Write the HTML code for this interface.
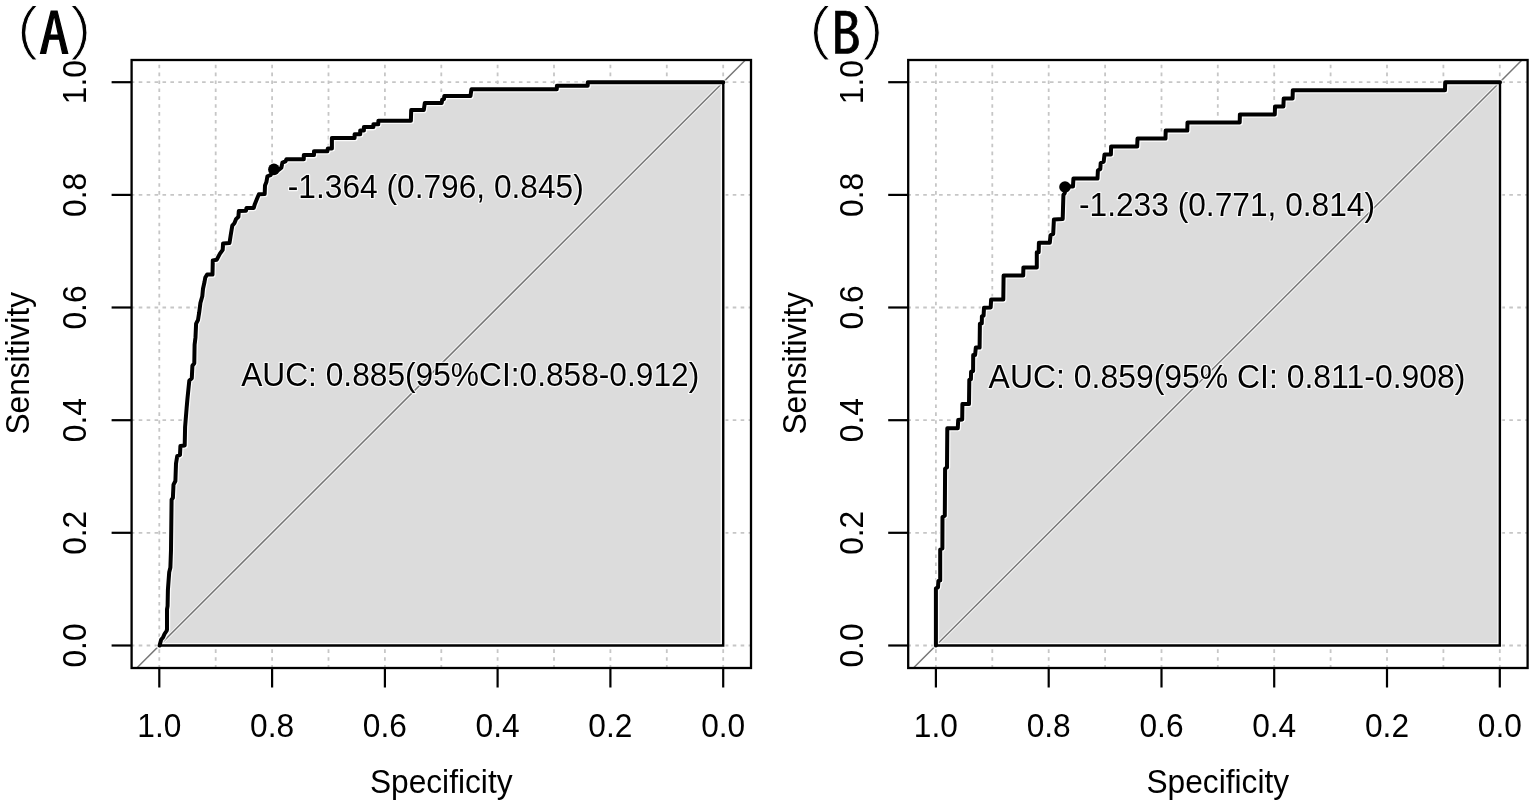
<!DOCTYPE html>
<html><head><meta charset="utf-8"><title>ROC curves</title>
<style>
html,body{margin:0;padding:0;background:#fff;width:1535px;height:806px;overflow:hidden}
svg{display:block}
text{font-family:'Liberation Sans', Arial, Helvetica, sans-serif;font-size:32.9px;fill:#000}
.grid line{stroke:#c6c6c6;stroke-width:1.8;stroke-dasharray:3.6 4.32}
.grid line.v{stroke-dasharray:3.6 4.3}
.auc{fill:#dcdcdc;stroke:none}
.auch{fill:none;stroke:#fff;stroke-opacity:0.8;stroke-width:5.0;stroke-linejoin:miter}
.aucb{fill:none;stroke:#000;stroke-width:2.4;stroke-linejoin:miter}
.diagh{stroke:#fff;stroke-opacity:0.7;stroke-width:3.4}
.roch{fill:none;stroke:#fff;stroke-opacity:0.8;stroke-width:6.6;stroke-linejoin:round}
.ann{stroke:#fff;stroke-opacity:0.8;stroke-width:2.4;paint-order:stroke fill;stroke-linejoin:round}
.diag{stroke:#767676;stroke-width:1.5}
.roc{fill:none;stroke:#000;stroke-width:4;stroke-linejoin:round;stroke-linecap:round}
.frame{fill:none;stroke:#000;stroke-width:2.3}
.tick line{stroke:#000;stroke-width:2.2}
.lab{font-family:'IPAGothic','Liberation Sans',sans-serif;font-size:59.5px;letter-spacing:-2.5px}
.lab{stroke:#fff;stroke-width:0.9}
.lab .labl{stroke:#000;stroke-width:1.2}
.lab .labB{stroke-width:0.7}
</style></head>
<body>
<svg width="1535" height="806" viewBox="0 0 1535 806">
<rect width="1535" height="806" fill="#fff"/>
<g class="grid"><line class="v" x1="159.3" y1="668.7" x2="159.3" y2="60.0"/><line class="v" x1="215.7" y1="668.7" x2="215.7" y2="60.0"/><line class="v" x1="272.1" y1="668.7" x2="272.1" y2="60.0"/><line class="v" x1="328.5" y1="668.7" x2="328.5" y2="60.0"/><line class="v" x1="384.9" y1="668.7" x2="384.9" y2="60.0"/><line class="v" x1="441.3" y1="668.7" x2="441.3" y2="60.0"/><line class="v" x1="497.6" y1="668.7" x2="497.6" y2="60.0"/><line class="v" x1="554.0" y1="668.7" x2="554.0" y2="60.0"/><line class="v" x1="610.4" y1="668.7" x2="610.4" y2="60.0"/><line class="v" x1="666.8" y1="668.7" x2="666.8" y2="60.0"/><line class="v" x1="723.2" y1="668.7" x2="723.2" y2="60.0"/><line x1="130.8" y1="645.5" x2="751.0" y2="645.5"/><line x1="130.8" y1="532.8" x2="751.0" y2="532.8"/><line x1="130.8" y1="420.2" x2="751.0" y2="420.2"/><line x1="130.8" y1="307.5" x2="751.0" y2="307.5"/><line x1="130.8" y1="194.9" x2="751.0" y2="194.9"/><line x1="130.8" y1="82.2" x2="751.0" y2="82.2"/></g>
<polygon class="auc" points="159.6,645.5 161.2,639.5 163.0,637.5 164.5,634.0 166.5,631.0 167.0,629.5 167.0,609.4 167.6,606.0 167.9,590.0 169.2,572.3 170.4,567.4 171.0,550.0 171.6,499.6 172.9,497.8 173.5,484.7 175.4,481.0 176.0,463.6 177.2,456.2 180.0,455.0 180.4,446.0 184.7,445.5 185.1,426.9 186.6,408.3 187.4,399.3 189.3,380.6 191.8,378.2 192.4,365.8 194.3,363.3 194.6,344.7 195.5,337.2 196.1,323.6 198.0,320.0 199.2,312.4 200.4,303.0 202.3,296.2 203.0,288.7 204.5,282.0 205.3,277.5 207.1,274.6 212.5,274.6 212.8,260.4 216.8,259.7 219.8,253.9 222.7,249.8 223.1,243.4 229.5,243.0 230.7,235.3 232.3,225.6 234.4,223.2 236.0,219.2 238.4,216.8 238.8,211.1 246.0,210.7 246.5,207.9 253.7,207.9 254.9,203.9 256.9,199.0 258.9,194.3 264.7,194.0 265.0,185.5 266.4,182.1 267.4,176.3 270.5,175.2 273.9,169.4 278.6,169.8 281.4,167.7 282.4,162.6 285.5,161.3 286.5,159.2 303.8,159.2 303.8,155.1 314.0,155.1 314.0,151.3 327.3,151.3 327.8,148.5 331.9,148.5 331.9,138.0 354.6,138.0 354.6,134.2 360.2,134.2 360.2,130.5 363.9,130.5 363.9,127.1 373.4,127.1 373.4,124.3 378.2,124.3 378.4,120.7 410.9,120.7 411.2,110.0 423.8,110.0 424.8,103.0 441.7,103.0 442.2,99.6 444.0,99.0 444.3,96.0 470.5,96.0 471.4,89.2 556.8,89.2 556.9,85.8 587.7,85.8 587.8,82.2 723.3,82.2 723.2,645.5"/>
<line class="diagh" x1="136.8" y1="668.0" x2="745.4" y2="60.0"/>
<line class="diag" x1="136.8" y1="668.0" x2="745.4" y2="60.0"/>
<polygon class="auch" points="159.6,645.5 161.2,639.5 163.0,637.5 164.5,634.0 166.5,631.0 167.0,629.5 167.0,609.4 167.6,606.0 167.9,590.0 169.2,572.3 170.4,567.4 171.0,550.0 171.6,499.6 172.9,497.8 173.5,484.7 175.4,481.0 176.0,463.6 177.2,456.2 180.0,455.0 180.4,446.0 184.7,445.5 185.1,426.9 186.6,408.3 187.4,399.3 189.3,380.6 191.8,378.2 192.4,365.8 194.3,363.3 194.6,344.7 195.5,337.2 196.1,323.6 198.0,320.0 199.2,312.4 200.4,303.0 202.3,296.2 203.0,288.7 204.5,282.0 205.3,277.5 207.1,274.6 212.5,274.6 212.8,260.4 216.8,259.7 219.8,253.9 222.7,249.8 223.1,243.4 229.5,243.0 230.7,235.3 232.3,225.6 234.4,223.2 236.0,219.2 238.4,216.8 238.8,211.1 246.0,210.7 246.5,207.9 253.7,207.9 254.9,203.9 256.9,199.0 258.9,194.3 264.7,194.0 265.0,185.5 266.4,182.1 267.4,176.3 270.5,175.2 273.9,169.4 278.6,169.8 281.4,167.7 282.4,162.6 285.5,161.3 286.5,159.2 303.8,159.2 303.8,155.1 314.0,155.1 314.0,151.3 327.3,151.3 327.8,148.5 331.9,148.5 331.9,138.0 354.6,138.0 354.6,134.2 360.2,134.2 360.2,130.5 363.9,130.5 363.9,127.1 373.4,127.1 373.4,124.3 378.2,124.3 378.4,120.7 410.9,120.7 411.2,110.0 423.8,110.0 424.8,103.0 441.7,103.0 442.2,99.6 444.0,99.0 444.3,96.0 470.5,96.0 471.4,89.2 556.8,89.2 556.9,85.8 587.7,85.8 587.8,82.2 723.3,82.2 723.2,645.5"/>
<polyline class="roch" points="159.6,645.5 161.2,639.5 163.0,637.5 164.5,634.0 166.5,631.0 167.0,629.5 167.0,609.4 167.6,606.0 167.9,590.0 169.2,572.3 170.4,567.4 171.0,550.0 171.6,499.6 172.9,497.8 173.5,484.7 175.4,481.0 176.0,463.6 177.2,456.2 180.0,455.0 180.4,446.0 184.7,445.5 185.1,426.9 186.6,408.3 187.4,399.3 189.3,380.6 191.8,378.2 192.4,365.8 194.3,363.3 194.6,344.7 195.5,337.2 196.1,323.6 198.0,320.0 199.2,312.4 200.4,303.0 202.3,296.2 203.0,288.7 204.5,282.0 205.3,277.5 207.1,274.6 212.5,274.6 212.8,260.4 216.8,259.7 219.8,253.9 222.7,249.8 223.1,243.4 229.5,243.0 230.7,235.3 232.3,225.6 234.4,223.2 236.0,219.2 238.4,216.8 238.8,211.1 246.0,210.7 246.5,207.9 253.7,207.9 254.9,203.9 256.9,199.0 258.9,194.3 264.7,194.0 265.0,185.5 266.4,182.1 267.4,176.3 270.5,175.2 273.9,169.4 278.6,169.8 281.4,167.7 282.4,162.6 285.5,161.3 286.5,159.2 303.8,159.2 303.8,155.1 314.0,155.1 314.0,151.3 327.3,151.3 327.8,148.5 331.9,148.5 331.9,138.0 354.6,138.0 354.6,134.2 360.2,134.2 360.2,130.5 363.9,130.5 363.9,127.1 373.4,127.1 373.4,124.3 378.2,124.3 378.4,120.7 410.9,120.7 411.2,110.0 423.8,110.0 424.8,103.0 441.7,103.0 442.2,99.6 444.0,99.0 444.3,96.0 470.5,96.0 471.4,89.2 556.8,89.2 556.9,85.8 587.7,85.8 587.8,82.2 723.3,82.2"/>
<circle cx="273.9" cy="169.4" r="7.0" fill="#fff" fill-opacity="0.8"/>
<polygon class="aucb" points="159.6,645.5 161.2,639.5 163.0,637.5 164.5,634.0 166.5,631.0 167.0,629.5 167.0,609.4 167.6,606.0 167.9,590.0 169.2,572.3 170.4,567.4 171.0,550.0 171.6,499.6 172.9,497.8 173.5,484.7 175.4,481.0 176.0,463.6 177.2,456.2 180.0,455.0 180.4,446.0 184.7,445.5 185.1,426.9 186.6,408.3 187.4,399.3 189.3,380.6 191.8,378.2 192.4,365.8 194.3,363.3 194.6,344.7 195.5,337.2 196.1,323.6 198.0,320.0 199.2,312.4 200.4,303.0 202.3,296.2 203.0,288.7 204.5,282.0 205.3,277.5 207.1,274.6 212.5,274.6 212.8,260.4 216.8,259.7 219.8,253.9 222.7,249.8 223.1,243.4 229.5,243.0 230.7,235.3 232.3,225.6 234.4,223.2 236.0,219.2 238.4,216.8 238.8,211.1 246.0,210.7 246.5,207.9 253.7,207.9 254.9,203.9 256.9,199.0 258.9,194.3 264.7,194.0 265.0,185.5 266.4,182.1 267.4,176.3 270.5,175.2 273.9,169.4 278.6,169.8 281.4,167.7 282.4,162.6 285.5,161.3 286.5,159.2 303.8,159.2 303.8,155.1 314.0,155.1 314.0,151.3 327.3,151.3 327.8,148.5 331.9,148.5 331.9,138.0 354.6,138.0 354.6,134.2 360.2,134.2 360.2,130.5 363.9,130.5 363.9,127.1 373.4,127.1 373.4,124.3 378.2,124.3 378.4,120.7 410.9,120.7 411.2,110.0 423.8,110.0 424.8,103.0 441.7,103.0 442.2,99.6 444.0,99.0 444.3,96.0 470.5,96.0 471.4,89.2 556.8,89.2 556.9,85.8 587.7,85.8 587.8,82.2 723.3,82.2 723.2,645.5"/>
<polyline class="roc" points="159.6,645.5 161.2,639.5 163.0,637.5 164.5,634.0 166.5,631.0 167.0,629.5 167.0,609.4 167.6,606.0 167.9,590.0 169.2,572.3 170.4,567.4 171.0,550.0 171.6,499.6 172.9,497.8 173.5,484.7 175.4,481.0 176.0,463.6 177.2,456.2 180.0,455.0 180.4,446.0 184.7,445.5 185.1,426.9 186.6,408.3 187.4,399.3 189.3,380.6 191.8,378.2 192.4,365.8 194.3,363.3 194.6,344.7 195.5,337.2 196.1,323.6 198.0,320.0 199.2,312.4 200.4,303.0 202.3,296.2 203.0,288.7 204.5,282.0 205.3,277.5 207.1,274.6 212.5,274.6 212.8,260.4 216.8,259.7 219.8,253.9 222.7,249.8 223.1,243.4 229.5,243.0 230.7,235.3 232.3,225.6 234.4,223.2 236.0,219.2 238.4,216.8 238.8,211.1 246.0,210.7 246.5,207.9 253.7,207.9 254.9,203.9 256.9,199.0 258.9,194.3 264.7,194.0 265.0,185.5 266.4,182.1 267.4,176.3 270.5,175.2 273.9,169.4 278.6,169.8 281.4,167.7 282.4,162.6 285.5,161.3 286.5,159.2 303.8,159.2 303.8,155.1 314.0,155.1 314.0,151.3 327.3,151.3 327.8,148.5 331.9,148.5 331.9,138.0 354.6,138.0 354.6,134.2 360.2,134.2 360.2,130.5 363.9,130.5 363.9,127.1 373.4,127.1 373.4,124.3 378.2,124.3 378.4,120.7 410.9,120.7 411.2,110.0 423.8,110.0 424.8,103.0 441.7,103.0 442.2,99.6 444.0,99.0 444.3,96.0 470.5,96.0 471.4,89.2 556.8,89.2 556.9,85.8 587.7,85.8 587.8,82.2 723.3,82.2"/>
<circle cx="273.9" cy="169.4" r="5.8" fill="#000"/>
<rect class="frame" x="131.6" y="60.0" width="619.4" height="608.0"/>
<g class="tick"><line x1="159.3" y1="668.0" x2="159.3" y2="687.5"/><line x1="111.6" y1="645.5" x2="131.6" y2="645.5"/><line x1="272.1" y1="668.0" x2="272.1" y2="687.5"/><line x1="111.6" y1="532.8" x2="131.6" y2="532.8"/><line x1="384.9" y1="668.0" x2="384.9" y2="687.5"/><line x1="111.6" y1="420.2" x2="131.6" y2="420.2"/><line x1="497.6" y1="668.0" x2="497.6" y2="687.5"/><line x1="111.6" y1="307.5" x2="131.6" y2="307.5"/><line x1="610.4" y1="668.0" x2="610.4" y2="687.5"/><line x1="111.6" y1="194.9" x2="131.6" y2="194.9"/><line x1="723.2" y1="668.0" x2="723.2" y2="687.5"/><line x1="111.6" y1="82.2" x2="131.6" y2="82.2"/></g>
<text text-anchor="middle" transform="translate(159.3,736.5) scale(0.9635,1)">1.0</text>
<text text-anchor="middle" transform="translate(272.1,736.5) scale(0.9635,1)">0.8</text>
<text text-anchor="middle" transform="translate(384.9,736.5) scale(0.9635,1)">0.6</text>
<text text-anchor="middle" transform="translate(497.6,736.5) scale(0.9635,1)">0.4</text>
<text text-anchor="middle" transform="translate(610.4,736.5) scale(0.9635,1)">0.2</text>
<text text-anchor="middle" transform="translate(723.2,736.5) scale(0.9635,1)">0.0</text>
<text text-anchor="middle" transform="translate(86.4,645.5) rotate(-90) scale(0.9635,1)">0.0</text>
<text text-anchor="middle" transform="translate(86.4,532.8) rotate(-90) scale(0.9635,1)">0.2</text>
<text text-anchor="middle" transform="translate(86.4,420.2) rotate(-90) scale(0.9635,1)">0.4</text>
<text text-anchor="middle" transform="translate(86.4,307.5) rotate(-90) scale(0.9635,1)">0.6</text>
<text text-anchor="middle" transform="translate(86.4,194.9) rotate(-90) scale(0.9635,1)">0.8</text>
<text text-anchor="middle" transform="translate(86.4,82.2) rotate(-90) scale(0.9635,1)">1.0</text>
<text text-anchor="middle" transform="translate(441.2,793.4) scale(0.9635,1)">Specificity</text>
<text text-anchor="middle" transform="translate(29.2,363.3) rotate(-90) scale(0.9635,1)">Sensitivity</text>
<text class="ann" transform="translate(287.8,197.9) scale(0.9635,1)">-1.364 (0.796, 0.845)</text>
<text class="ann" transform="translate(241.2,385.8) scale(0.9635,1)">AUC: 0.885(95%CI:0.858-0.912)</text>
<text class="lab" x="12.1" y="56.3">(<tspan class="labl">A</tspan>)</text>
<g class="grid"><line class="v" x1="935.9" y1="668.7" x2="935.9" y2="60.0"/><line class="v" x1="992.3" y1="668.7" x2="992.3" y2="60.0"/><line class="v" x1="1048.7" y1="668.7" x2="1048.7" y2="60.0"/><line class="v" x1="1105.1" y1="668.7" x2="1105.1" y2="60.0"/><line class="v" x1="1161.5" y1="668.7" x2="1161.5" y2="60.0"/><line class="v" x1="1217.8" y1="668.7" x2="1217.8" y2="60.0"/><line class="v" x1="1274.2" y1="668.7" x2="1274.2" y2="60.0"/><line class="v" x1="1330.6" y1="668.7" x2="1330.6" y2="60.0"/><line class="v" x1="1387.0" y1="668.7" x2="1387.0" y2="60.0"/><line class="v" x1="1443.4" y1="668.7" x2="1443.4" y2="60.0"/><line class="v" x1="1499.8" y1="668.7" x2="1499.8" y2="60.0"/><line x1="907.4" y1="645.5" x2="1527.6" y2="645.5"/><line x1="907.4" y1="532.8" x2="1527.6" y2="532.8"/><line x1="907.4" y1="420.2" x2="1527.6" y2="420.2"/><line x1="907.4" y1="307.5" x2="1527.6" y2="307.5"/><line x1="907.4" y1="194.9" x2="1527.6" y2="194.9"/><line x1="907.4" y1="82.2" x2="1527.6" y2="82.2"/></g>
<polygon class="auc" points="935.9,645.5 935.9,588.5 938.0,587.2 938.4,581.0 940.2,580.4 940.2,549.5 942.4,548.5 942.5,517.0 944.8,515.8 945.1,468.6 947.0,467.4 947.3,428.2 957.8,428.2 958.2,420.1 962.2,419.5 962.4,404.0 969.0,404.0 969.3,379.8 970.9,379.2 971.1,371.7 973.1,371.1 973.2,355.1 975.1,355.1 975.8,347.6 979.6,347.6 979.9,323.8 981.8,323.4 981.9,316.4 983.6,315.6 984.0,307.8 990.7,307.4 991.1,299.6 1003.3,299.6 1003.6,275.4 1023.2,275.4 1023.4,267.4 1036.8,267.4 1036.8,252.3 1038.7,252.3 1038.9,242.8 1049.8,242.8 1050.5,235.3 1053.2,233.9 1053.9,219.6 1062.7,218.9 1063.4,195.0 1064.8,193.0 1065.0,186.5 1073.0,186.5 1073.4,178.6 1097.5,178.6 1097.9,170.5 1100.3,169.1 1100.7,163.0 1103.7,161.6 1104.5,154.4 1110.9,154.4 1111.1,146.5 1137.2,146.5 1137.5,138.6 1165.5,138.6 1165.7,130.6 1187.3,130.6 1187.5,122.4 1239.7,122.4 1239.9,114.4 1274.8,114.4 1275.0,106.5 1283.4,106.5 1283.7,98.5 1292.6,98.5 1292.8,90.2 1445.0,90.2 1445.2,82.2 1500.0,82.2 1499.8,645.5"/>
<line class="diagh" x1="913.4" y1="668.0" x2="1522.0" y2="60.0"/>
<line class="diag" x1="913.4" y1="668.0" x2="1522.0" y2="60.0"/>
<polygon class="auch" points="935.9,645.5 935.9,588.5 938.0,587.2 938.4,581.0 940.2,580.4 940.2,549.5 942.4,548.5 942.5,517.0 944.8,515.8 945.1,468.6 947.0,467.4 947.3,428.2 957.8,428.2 958.2,420.1 962.2,419.5 962.4,404.0 969.0,404.0 969.3,379.8 970.9,379.2 971.1,371.7 973.1,371.1 973.2,355.1 975.1,355.1 975.8,347.6 979.6,347.6 979.9,323.8 981.8,323.4 981.9,316.4 983.6,315.6 984.0,307.8 990.7,307.4 991.1,299.6 1003.3,299.6 1003.6,275.4 1023.2,275.4 1023.4,267.4 1036.8,267.4 1036.8,252.3 1038.7,252.3 1038.9,242.8 1049.8,242.8 1050.5,235.3 1053.2,233.9 1053.9,219.6 1062.7,218.9 1063.4,195.0 1064.8,193.0 1065.0,186.5 1073.0,186.5 1073.4,178.6 1097.5,178.6 1097.9,170.5 1100.3,169.1 1100.7,163.0 1103.7,161.6 1104.5,154.4 1110.9,154.4 1111.1,146.5 1137.2,146.5 1137.5,138.6 1165.5,138.6 1165.7,130.6 1187.3,130.6 1187.5,122.4 1239.7,122.4 1239.9,114.4 1274.8,114.4 1275.0,106.5 1283.4,106.5 1283.7,98.5 1292.6,98.5 1292.8,90.2 1445.0,90.2 1445.2,82.2 1500.0,82.2 1499.8,645.5"/>
<polyline class="roch" points="935.9,645.5 935.9,588.5 938.0,587.2 938.4,581.0 940.2,580.4 940.2,549.5 942.4,548.5 942.5,517.0 944.8,515.8 945.1,468.6 947.0,467.4 947.3,428.2 957.8,428.2 958.2,420.1 962.2,419.5 962.4,404.0 969.0,404.0 969.3,379.8 970.9,379.2 971.1,371.7 973.1,371.1 973.2,355.1 975.1,355.1 975.8,347.6 979.6,347.6 979.9,323.8 981.8,323.4 981.9,316.4 983.6,315.6 984.0,307.8 990.7,307.4 991.1,299.6 1003.3,299.6 1003.6,275.4 1023.2,275.4 1023.4,267.4 1036.8,267.4 1036.8,252.3 1038.7,252.3 1038.9,242.8 1049.8,242.8 1050.5,235.3 1053.2,233.9 1053.9,219.6 1062.7,218.9 1063.4,195.0 1064.8,193.0 1065.0,186.5 1073.0,186.5 1073.4,178.6 1097.5,178.6 1097.9,170.5 1100.3,169.1 1100.7,163.0 1103.7,161.6 1104.5,154.4 1110.9,154.4 1111.1,146.5 1137.2,146.5 1137.5,138.6 1165.5,138.6 1165.7,130.6 1187.3,130.6 1187.5,122.4 1239.7,122.4 1239.9,114.4 1274.8,114.4 1275.0,106.5 1283.4,106.5 1283.7,98.5 1292.6,98.5 1292.8,90.2 1445.0,90.2 1445.2,82.2 1500.0,82.2"/>
<circle cx="1065.0" cy="187.0" r="7.0" fill="#fff" fill-opacity="0.8"/>
<polygon class="aucb" points="935.9,645.5 935.9,588.5 938.0,587.2 938.4,581.0 940.2,580.4 940.2,549.5 942.4,548.5 942.5,517.0 944.8,515.8 945.1,468.6 947.0,467.4 947.3,428.2 957.8,428.2 958.2,420.1 962.2,419.5 962.4,404.0 969.0,404.0 969.3,379.8 970.9,379.2 971.1,371.7 973.1,371.1 973.2,355.1 975.1,355.1 975.8,347.6 979.6,347.6 979.9,323.8 981.8,323.4 981.9,316.4 983.6,315.6 984.0,307.8 990.7,307.4 991.1,299.6 1003.3,299.6 1003.6,275.4 1023.2,275.4 1023.4,267.4 1036.8,267.4 1036.8,252.3 1038.7,252.3 1038.9,242.8 1049.8,242.8 1050.5,235.3 1053.2,233.9 1053.9,219.6 1062.7,218.9 1063.4,195.0 1064.8,193.0 1065.0,186.5 1073.0,186.5 1073.4,178.6 1097.5,178.6 1097.9,170.5 1100.3,169.1 1100.7,163.0 1103.7,161.6 1104.5,154.4 1110.9,154.4 1111.1,146.5 1137.2,146.5 1137.5,138.6 1165.5,138.6 1165.7,130.6 1187.3,130.6 1187.5,122.4 1239.7,122.4 1239.9,114.4 1274.8,114.4 1275.0,106.5 1283.4,106.5 1283.7,98.5 1292.6,98.5 1292.8,90.2 1445.0,90.2 1445.2,82.2 1500.0,82.2 1499.8,645.5"/>
<polyline class="roc" points="935.9,645.5 935.9,588.5 938.0,587.2 938.4,581.0 940.2,580.4 940.2,549.5 942.4,548.5 942.5,517.0 944.8,515.8 945.1,468.6 947.0,467.4 947.3,428.2 957.8,428.2 958.2,420.1 962.2,419.5 962.4,404.0 969.0,404.0 969.3,379.8 970.9,379.2 971.1,371.7 973.1,371.1 973.2,355.1 975.1,355.1 975.8,347.6 979.6,347.6 979.9,323.8 981.8,323.4 981.9,316.4 983.6,315.6 984.0,307.8 990.7,307.4 991.1,299.6 1003.3,299.6 1003.6,275.4 1023.2,275.4 1023.4,267.4 1036.8,267.4 1036.8,252.3 1038.7,252.3 1038.9,242.8 1049.8,242.8 1050.5,235.3 1053.2,233.9 1053.9,219.6 1062.7,218.9 1063.4,195.0 1064.8,193.0 1065.0,186.5 1073.0,186.5 1073.4,178.6 1097.5,178.6 1097.9,170.5 1100.3,169.1 1100.7,163.0 1103.7,161.6 1104.5,154.4 1110.9,154.4 1111.1,146.5 1137.2,146.5 1137.5,138.6 1165.5,138.6 1165.7,130.6 1187.3,130.6 1187.5,122.4 1239.7,122.4 1239.9,114.4 1274.8,114.4 1275.0,106.5 1283.4,106.5 1283.7,98.5 1292.6,98.5 1292.8,90.2 1445.0,90.2 1445.2,82.2 1500.0,82.2"/>
<circle cx="1065.0" cy="187.0" r="5.8" fill="#000"/>
<rect class="frame" x="908.2" y="60.0" width="619.4" height="608.0"/>
<g class="tick"><line x1="935.9" y1="668.0" x2="935.9" y2="687.5"/><line x1="888.2" y1="645.5" x2="908.2" y2="645.5"/><line x1="1048.7" y1="668.0" x2="1048.7" y2="687.5"/><line x1="888.2" y1="532.8" x2="908.2" y2="532.8"/><line x1="1161.5" y1="668.0" x2="1161.5" y2="687.5"/><line x1="888.2" y1="420.2" x2="908.2" y2="420.2"/><line x1="1274.2" y1="668.0" x2="1274.2" y2="687.5"/><line x1="888.2" y1="307.5" x2="908.2" y2="307.5"/><line x1="1387.0" y1="668.0" x2="1387.0" y2="687.5"/><line x1="888.2" y1="194.9" x2="908.2" y2="194.9"/><line x1="1499.8" y1="668.0" x2="1499.8" y2="687.5"/><line x1="888.2" y1="82.2" x2="908.2" y2="82.2"/></g>
<text text-anchor="middle" transform="translate(935.9,736.5) scale(0.9635,1)">1.0</text>
<text text-anchor="middle" transform="translate(1048.7,736.5) scale(0.9635,1)">0.8</text>
<text text-anchor="middle" transform="translate(1161.5,736.5) scale(0.9635,1)">0.6</text>
<text text-anchor="middle" transform="translate(1274.2,736.5) scale(0.9635,1)">0.4</text>
<text text-anchor="middle" transform="translate(1387.0,736.5) scale(0.9635,1)">0.2</text>
<text text-anchor="middle" transform="translate(1499.8,736.5) scale(0.9635,1)">0.0</text>
<text text-anchor="middle" transform="translate(863.0,645.5) rotate(-90) scale(0.9635,1)">0.0</text>
<text text-anchor="middle" transform="translate(863.0,532.8) rotate(-90) scale(0.9635,1)">0.2</text>
<text text-anchor="middle" transform="translate(863.0,420.2) rotate(-90) scale(0.9635,1)">0.4</text>
<text text-anchor="middle" transform="translate(863.0,307.5) rotate(-90) scale(0.9635,1)">0.6</text>
<text text-anchor="middle" transform="translate(863.0,194.9) rotate(-90) scale(0.9635,1)">0.8</text>
<text text-anchor="middle" transform="translate(863.0,82.2) rotate(-90) scale(0.9635,1)">1.0</text>
<text text-anchor="middle" transform="translate(1217.8,793.4) scale(0.9635,1)">Specificity</text>
<text text-anchor="middle" transform="translate(805.8,363.3) rotate(-90) scale(0.9635,1)">Sensitivity</text>
<text class="ann" transform="translate(1079.0,215.9) scale(0.9635,1)">-1.233 (0.771, 0.814)</text>
<text class="ann" transform="translate(988.6,388.3) scale(0.9712,1)">AUC: 0.859(95% CI: 0.811-0.908)</text>
<text class="lab" x="804.2" y="56.3">(<tspan class="labl labB">B</tspan>)</text>
</svg>
</body></html>
